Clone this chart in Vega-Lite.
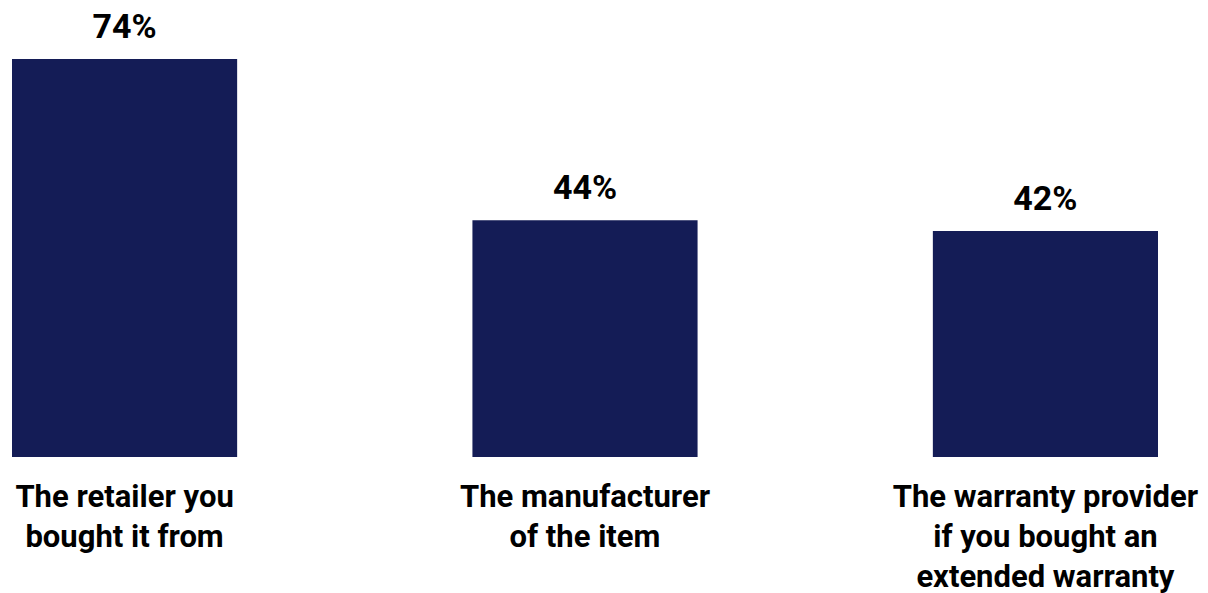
{
  "$schema": "https://vega.github.io/schema/vega-lite/v6.json",
  "width": 1146,
  "height": 398,
  "autosize": {"type": "none"},
  "padding": {"left": 12, "top": 59, "right": 50, "bottom": 136},
  "background": "white",
  "config": {"view": {"stroke": null}, "font": "Roboto"},
  "data": {"values": [
    {"label": "The retailer you\nbought it from", "value": 0.74},
    {"label": "The manufacturer\nof the item", "value": 0.44},
    {"label": "The warranty provider\nif you bought an\nextended warranty", "value": 0.42}
  ]},
  "encoding": {
    "x": {
      "field": "label", "type": "nominal", "sort": null,
      "scale": {"paddingInner": 0.511, "paddingOuter": 0},
      "axis": {
        "title": null, "domain": false, "ticks": false, "labelAngle": 0,
        "labelExpr": "split(datum.label, '\\n')",
        "labelFont": "Roboto", "labelFontWeight": "bold", "labelFontSize": 31,
        "labelColor": "#000000", "labelLineHeight": 40, "labelPadding": 25,
        "labelBaseline": "top", "labelLimit": 0
      }
    },
    "y": {
      "field": "value", "type": "quantitative",
      "scale": {"domain": [0, 0.74], "nice": false},
      "axis": null
    }
  },
  "layer": [
    {"mark": {"type": "bar", "color": "#141c56"}},
    {
      "mark": {"type": "text", "baseline": "alphabetic", "dy": -21, "fontSize": 34, "fontWeight": "bold", "color": "#000000", "font": "Roboto"},
      "encoding": {"text": {"field": "value", "type": "quantitative", "format": ".0%"}}
    }
  ]
}
